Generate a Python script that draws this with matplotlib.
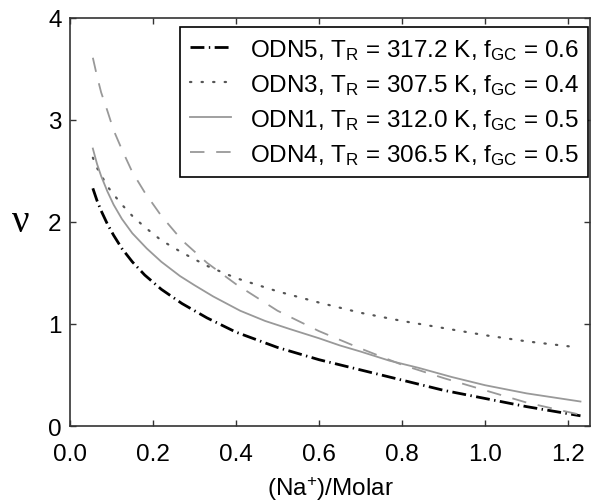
import matplotlib
matplotlib.use("Agg")
import matplotlib.pyplot as plt

plt.rcParams["font.family"] = ["Liberation Sans", "DejaVu Sans"]
plt.rcParams["mathtext.fontset"] = "custom"
plt.rcParams["mathtext.rm"] = "Liberation Sans"
plt.rcParams["mathtext.it"] = "Liberation Sans"

# values
odn5_x = [0.055, 0.065, 0.075, 0.09, 0.105, 0.125, 0.15, 0.18, 0.22, 0.27, 0.33, 0.4, 0.5,
          0.6, 0.7, 0.8, 0.9, 1.0, 1.1, 1.23]
odn5_y = [2.33, 2.21, 2.11, 1.98, 1.87, 1.74, 1.61, 1.48, 1.34, 1.20, 1.06, 0.92, 0.77,
          0.65, 0.55, 0.45, 0.35, 0.27, 0.19, 0.10]

odn3_x = [0.055, 0.065, 0.075, 0.09, 0.105, 0.125, 0.15, 0.18, 0.22, 0.27, 0.33, 0.4, 0.5,
          0.6, 0.7, 0.8, 0.9, 1.0, 1.1, 1.225]
odn3_y = [2.63, 2.53, 2.46, 2.35, 2.27, 2.17, 2.06, 1.95, 1.82, 1.70, 1.57, 1.45, 1.32,
          1.21, 1.11, 1.03, 0.96, 0.89, 0.83, 0.77]

odn1_x = [0.055, 0.065, 0.075, 0.09, 0.105, 0.125, 0.15, 0.185, 0.22, 0.265, 0.3, 0.345, 0.41,
          0.47, 0.53, 0.6, 0.65, 0.7, 0.77, 0.84, 0.92, 1.0, 1.1, 1.23]
odn1_y = [2.72, 2.57, 2.45, 2.30, 2.17, 2.03, 1.89, 1.74, 1.61, 1.47, 1.38, 1.27, 1.13,
          1.03, 0.95, 0.86, 0.79, 0.73, 0.64, 0.57, 0.48, 0.40, 0.32, 0.24]

odn4_x = [0.055, 0.065, 0.075, 0.09, 0.105, 0.125, 0.15, 0.18, 0.22, 0.27, 0.33, 0.4, 0.5,
          0.6, 0.7, 0.8, 0.9, 1.0, 1.1, 1.23]
odn4_y = [3.61, 3.43, 3.27, 3.09, 2.90, 2.71, 2.49, 2.29, 2.06, 1.82, 1.60, 1.39, 1.13,
          0.93, 0.76, 0.60, 0.47, 0.35, 0.23, 0.11]

labels = [
    r"ODN5, T$_{\mathrm{R}}$ = 317.2 K, f$_{\mathrm{GC}}$ = 0.6",
    r"ODN3, T$_{\mathrm{R}}$ = 307.5 K, f$_{\mathrm{GC}}$ = 0.4",
    r"ODN1, T$_{\mathrm{R}}$ = 312.0 K, f$_{\mathrm{GC}}$ = 0.5",
    r"ODN4, T$_{\mathrm{R}}$ = 306.5 K, f$_{\mathrm{GC}}$ = 0.5",
]

fig = plt.figure(figsize=(5.99, 5.02), dpi=100)
ax = fig.add_axes([0.1169, 0.1494, 0.985 - 0.1169, 0.9622 - 0.1494])

ax.plot(odn5_x, odn5_y, color="black", lw=2.0, linestyle=(0, (5, 1.6, 0.5, 1.6)), label=labels[0])
ax.plot(odn3_x, odn3_y, color="#555555", lw=1.6, linestyle=(0, (0.6, 4.6)),
        dash_capstyle="round", label=labels[1])
ax.plot(odn1_x, odn1_y, color="#999999", lw=1.3, label=labels[2])
ax.plot(odn4_x, odn4_y, color="#999999", lw=1.3, linestyle=(0, (8, 6.5)), label=labels[3])

ax.set_xlim(0, 1.253)
ax.set_ylim(0, 4)
ax.set_xticks([0.0, 0.2, 0.4, 0.6, 0.8, 1.0, 1.2])
ax.set_xticklabels(["0.0", "0.2", "0.4", "0.6", "0.8", "1.0", "1.2"])
ax.set_yticks([0, 1, 2, 3, 4])
ax.tick_params(direction="in", length=4, width=1, colors="#333333", labelcolor="black",
               labelsize=17.5, top=True, right=True, pad=6)
ax.tick_params(axis="x", pad=12)
for s in ax.spines.values():
    s.set_color("#333333")
    s.set_linewidth(1.2)

ax.set_xlabel(r"(Na$^{+}$)/Molar", fontsize=17.5, labelpad=7)
ax.set_ylabel("ν", fontsize=28, family="Liberation Serif", rotation=0, va="center")
ax.yaxis.set_label_coords(-0.094, 0.50)

leg = ax.legend(loc="upper right", bbox_to_anchor=(0.997, 0.978), borderaxespad=0,
                fontsize=17.5, handlelength=1.7, handletextpad=0.75, labelspacing=0.42,
                borderpad=0.4, fancybox=False, framealpha=1)
leg.get_frame().set_edgecolor("black")
leg.get_frame().set_linewidth(1.2)

fig.savefig("out.png", dpi=100)
